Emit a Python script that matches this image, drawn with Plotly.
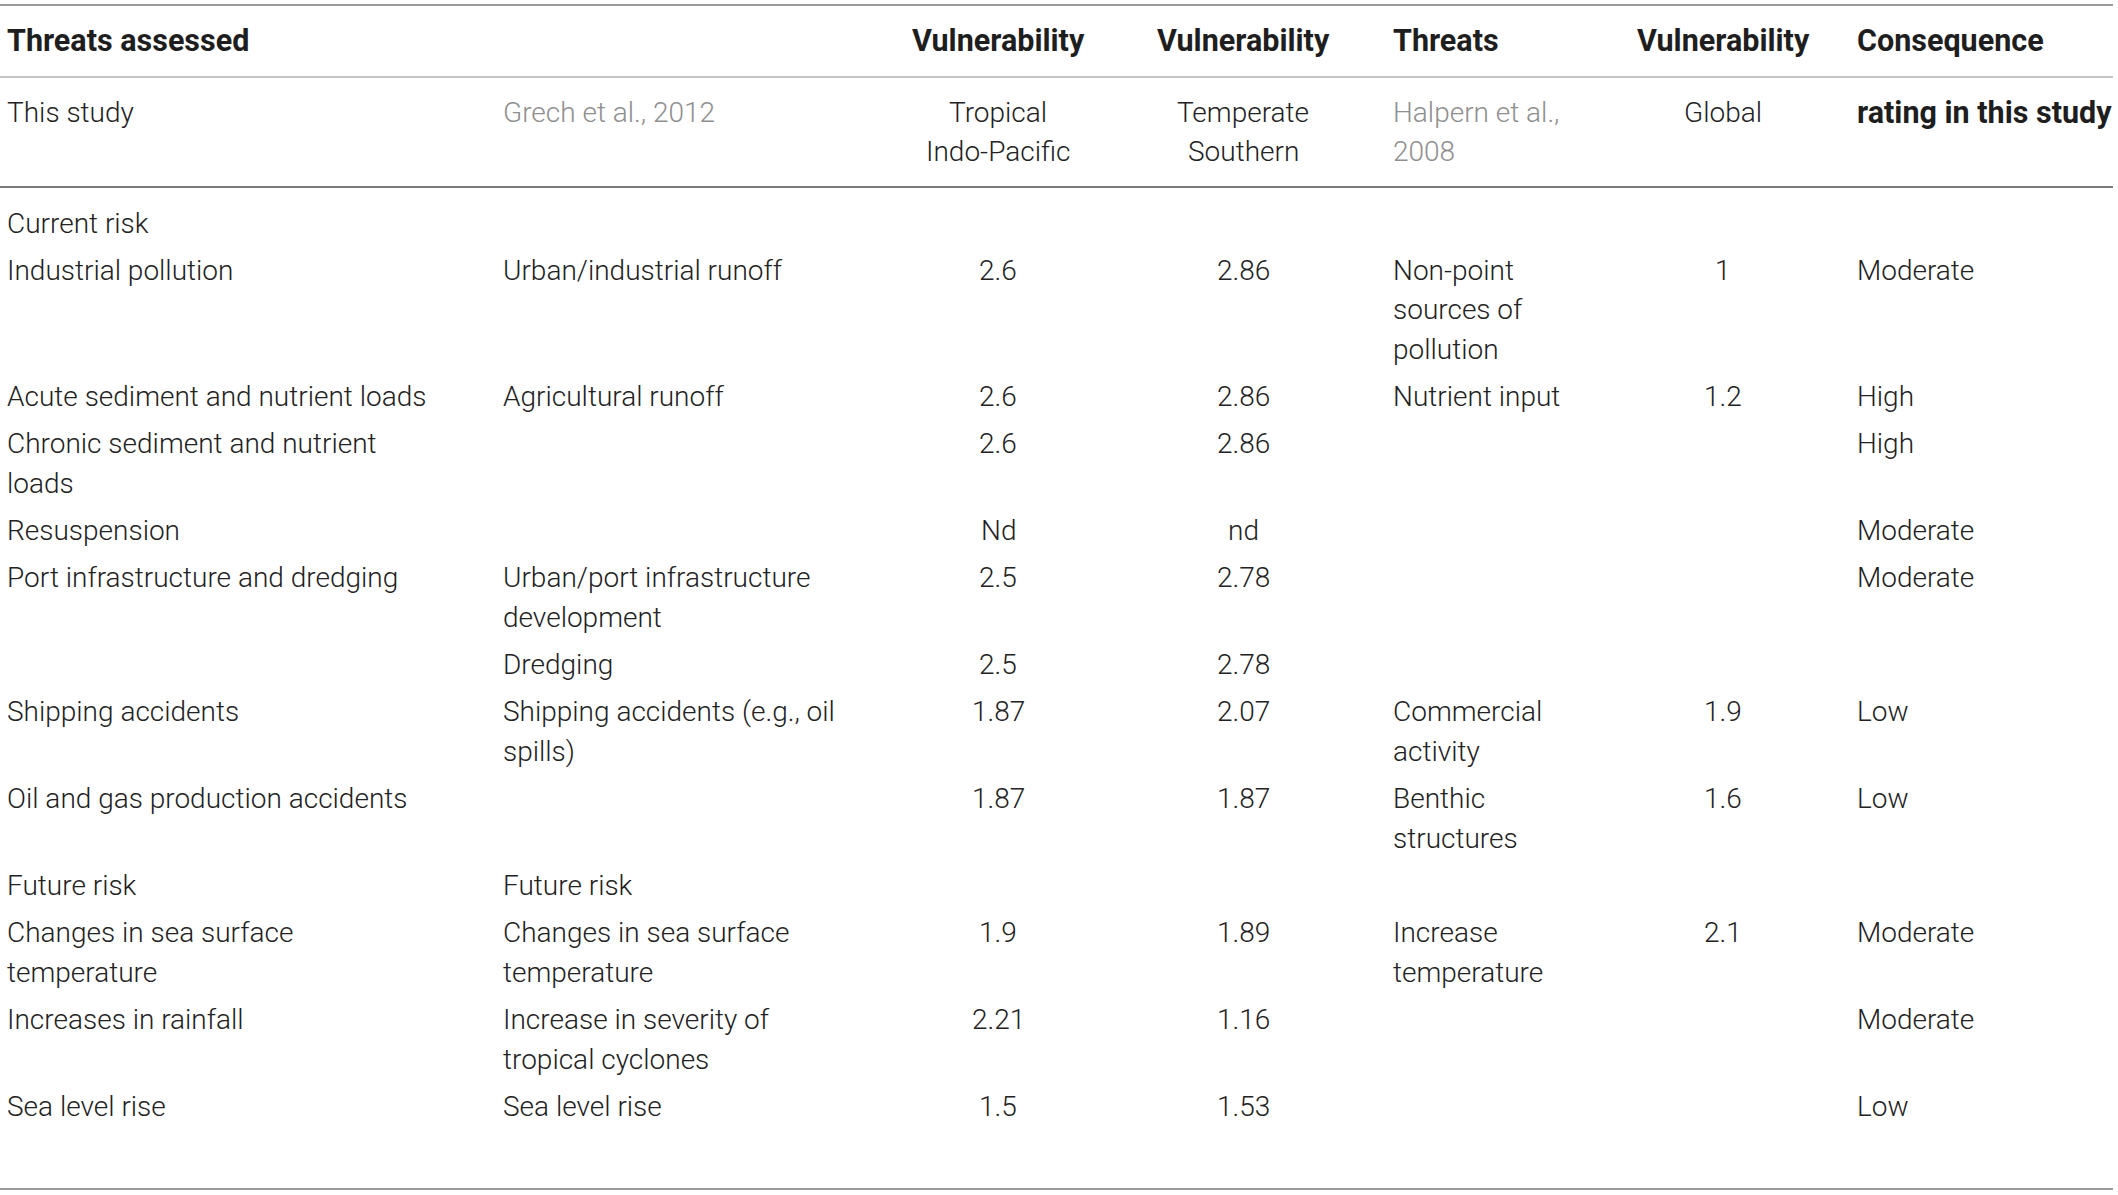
import plotly.graph_objects as go

# table content, one list per column ("\n" = line break inside a cell)
header = ["Threats assessed", "", "Vulnerability", "Vulnerability", "Threats", "Vulnerability", "Consequence"]
subheader = ["This study", "Grech et al., 2012", "Tropical\nIndo-Pacific", "Temperate\nSouthern",
             "Halpern et al.,\n2008", "Global", "rating in this study"]

threats_this_study = ["Current risk", "Industrial pollution", "Acute sediment and nutrient loads",
                      "Chronic sediment and nutrient\nloads", "Resuspension", "Port infrastructure and dredging",
                      "", "Shipping accidents", "Oil and gas production accidents", "Future risk",
                      "Changes in sea surface\ntemperature", "Increases in rainfall", "Sea level rise"]
threats_grech = ["", "Urban/industrial runoff", "Agricultural runoff", "", "",
                 "Urban/port infrastructure\ndevelopment", "Dredging", "Shipping accidents (e.g., oil\nspills)",
                 "", "Future risk", "Changes in sea surface\ntemperature",
                 "Increase in severity of\ntropical cyclones", "Sea level rise"]
vuln_tropical = ["", "2.6", "2.6", "2.6", "Nd", "2.5", "2.5", "1.87", "1.87", "", "1.9", "2.21", "1.5"]
vuln_temperate = ["", "2.86", "2.86", "2.86", "nd", "2.78", "2.78", "2.07", "1.87", "", "1.89", "1.16", "1.53"]
threats_halpern = ["", "Non-point\nsources of\npollution", "Nutrient input", "", "", "", "",
                   "Commercial\nactivity", "Benthic\nstructures", "", "Increase\ntemperature", "", ""]
vuln_global = ["", "1", "1.2", "", "", "", "", "1.9", "1.6", "", "2.1", "", ""]
consequence = ["", "Moderate", "High", "High", "Moderate", "Moderate", "", "Low", "Low", "",
               "Moderate", "Moderate", "Low"]

columns = [threats_this_study, threats_grech, vuln_tropical, vuln_temperate,
           threats_halpern, vuln_global, consequence]

W, H = 2118, 1195
col_x = [5, 501, 998, 1243, 1391, 1723, 1855]
col_align = ["left", "left", "center", "center", "left", "center", "left"]

BODY = dict(family="Roboto", size=28, color="#222222", weight=300)
BOLD = dict(family="Roboto", size=30.5, color="#1e1e1e", weight=700)
GREY = dict(family="Roboto", size=28, color="#8f8f8f", weight=300)

line_step = 39.6
row_step = 47.2

fig = go.Figure()
annotations = []


def add_cell(text, col, y0, font):
    for k, part in enumerate(text.split("\n")):
        if not part:
            continue
        annotations.append(dict(
            x=col_x[col], y=y0 + k * line_step, xref="x", yref="y",
            text=part, showarrow=False, xanchor=col_align[col], yanchor="middle",
            font=font))


# header rows
for c, t in enumerate(header):
    add_cell(t, c, 40.5, BOLD)
for c, t in enumerate(subheader):
    font = BODY
    if c in (1, 4):
        font = GREY
    if c == 6:
        font = BOLD
    add_cell(t, c, 112, font)

# body rows
y = 223
for r in range(len(threats_this_study)):
    n_lines = max(col[r].count("\n") + 1 for col in columns)
    for c, col in enumerate(columns):
        add_cell(col[r], c, y, BODY)
    y += (n_lines - 1) * line_step + row_step

# horizontal rules
rules = [(5, "#9a9a9a"), (77, "#c4c4c4"), (187, "#7a7a7a"), (1189, "#9a9a9a")]
for ry, color in rules:
    fig.add_shape(type="line", x0=0, x1=2113, y0=ry, y1=ry, xref="x", yref="y",
                  line=dict(color=color, width=2))

fig.add_trace(go.Scatter(x=[0, W], y=[0, H], mode="markers", marker=dict(opacity=0),
                         hoverinfo="skip", showlegend=False))

fig.update_layout(
    width=W, height=H,
    margin=dict(l=0, r=0, t=0, b=0),
    paper_bgcolor="white", plot_bgcolor="white",
    annotations=annotations,
    xaxis=dict(range=[0, W], visible=False, fixedrange=True),
    yaxis=dict(range=[H, 0], visible=False, fixedrange=True),
    showlegend=False,
)

fig.write_html("out.html", config={"displayModeBar": False},
               post_script="document.body.style.margin='0';document.body.style.overflow='hidden';")
